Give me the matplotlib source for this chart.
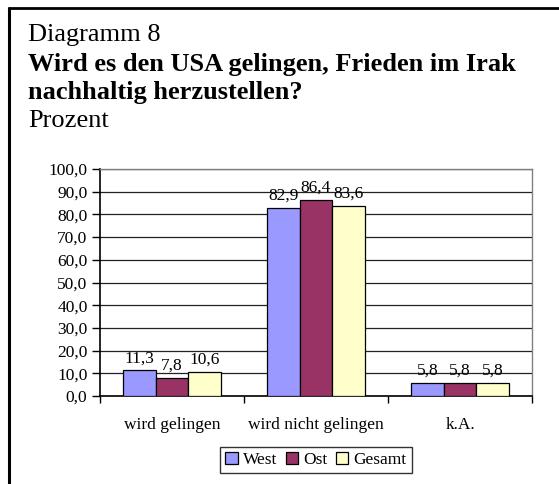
import matplotlib
matplotlib.use("Agg")
import matplotlib.pyplot as plt
import numpy as np
from matplotlib.lines import Line2D

categories = ["wird gelingen", "wird nicht gelingen", "k.A."]
series_names = ["West", "Ost", "Gesamt"]
west = [11.3, 82.9, 5.8]
ost = [7.8, 86.4, 5.8]
gesamt = [10.6, 83.6, 5.8]
colors = ["#9999FF", "#993366", "#FFFFCC"]
yticks = [0, 10, 20, 30, 40, 50, 60, 70, 80, 90, 100]

plt.rcParams['font.family'] = ['Liberation Serif', 'DejaVu Serif']

W, H = 559, 484
fig = plt.figure(figsize=(W / 100, H / 100), dpi=100)

# outer frame (top and left visible)
fig.add_artist(Line2D([8 / W, 1.0], [1 - 7.5 / H, 1 - 7.5 / H], transform=fig.transFigure,
                      color="black", lw=2.0, solid_capstyle="butt"))
fig.add_artist(Line2D([8.5 / W, 8.5 / W], [0, 1 - 6.5 / H], transform=fig.transFigure,
                      color="black", lw=2.2, solid_capstyle="butt"))

# title block
TS = 19
fig.text(28 / W, 1 - 35 / H, "Diagramm 8", fontsize=TS, va="center", ha="left")
fig.text(28 / W, 1 - 64 / H, "Wird es den USA gelingen, Frieden im Irak", fontsize=TS,
         fontweight="bold", va="center", ha="left")
fig.text(28 / W, 1 - 93 / H, "nachhaltig herzustellen?", fontsize=TS,
         fontweight="bold", va="center", ha="left")
fig.text(28 / W, 1 - 121 / H, "Prozent", fontsize=TS, va="center", ha="left")

FS = 12.5
left, right, top, bottom = 100, 532, 169, 396
ax = fig.add_axes([left / W, 1 - bottom / H, (right - left) / W, (bottom - top) / H])

x = np.arange(len(categories))
bw = 0.675 / 3
data = [west, ost, gesamt]
for i, (vals, c, name) in enumerate(zip(data, colors, series_names)):
    pos = x + (i - 1) * bw
    bars = ax.bar(pos, vals, width=bw, color=c, edgecolor="black", linewidth=0.9,
                  label=name, zorder=3)
    for b, v in zip(bars, vals):
        ax.annotate(f"{v:.1f}".replace(".", ","), (b.get_x() + b.get_width() / 2, v),
                    xytext=(0, 3), textcoords="offset points", ha="center", va="bottom",
                    fontsize=FS, zorder=4)

ax.set_xlim(-0.5, len(categories) - 0.5)
ax.set_ylim(0, 100)
ax.set_yticks(yticks)
ax.set_yticklabels([f"{t:.1f}".replace(".", ",") for t in yticks], fontsize=FS)
ax.yaxis.grid(True, color="#222222", linewidth=0.9, zorder=0)
ax.set_axisbelow(True)

ax.set_xticks(x)
ax.set_xticklabels(categories, fontsize=FS)
ax.tick_params(axis="x", length=0, pad=15)
ax.set_xticks(np.arange(len(categories) + 1) - 0.5, minor=True)
ax.tick_params(axis="x", which="minor", length=5, width=1, color="black", direction="out")
ax.tick_params(axis="y", length=6, width=1, direction="out", pad=3)

for s in ["top", "right"]:
    ax.spines[s].set_color("#808080")
    ax.spines[s].set_linewidth(1.0)
ax.spines["left"].set_linewidth(1.2)
ax.spines["bottom"].set_linewidth(1.2)

leg = fig.legend(loc="center", bbox_to_anchor=(316 / W, 1 - 460 / H), ncol=3,
                 fontsize=FS, frameon=True, fancybox=False, edgecolor="black",
                 handlelength=0.7, handleheight=0.7, handletextpad=0.3,
                 columnspacing=0.5, borderpad=0.3, borderaxespad=0)
leg.get_frame().set_linewidth(1.0)

fig.savefig("out.png", dpi=100)
